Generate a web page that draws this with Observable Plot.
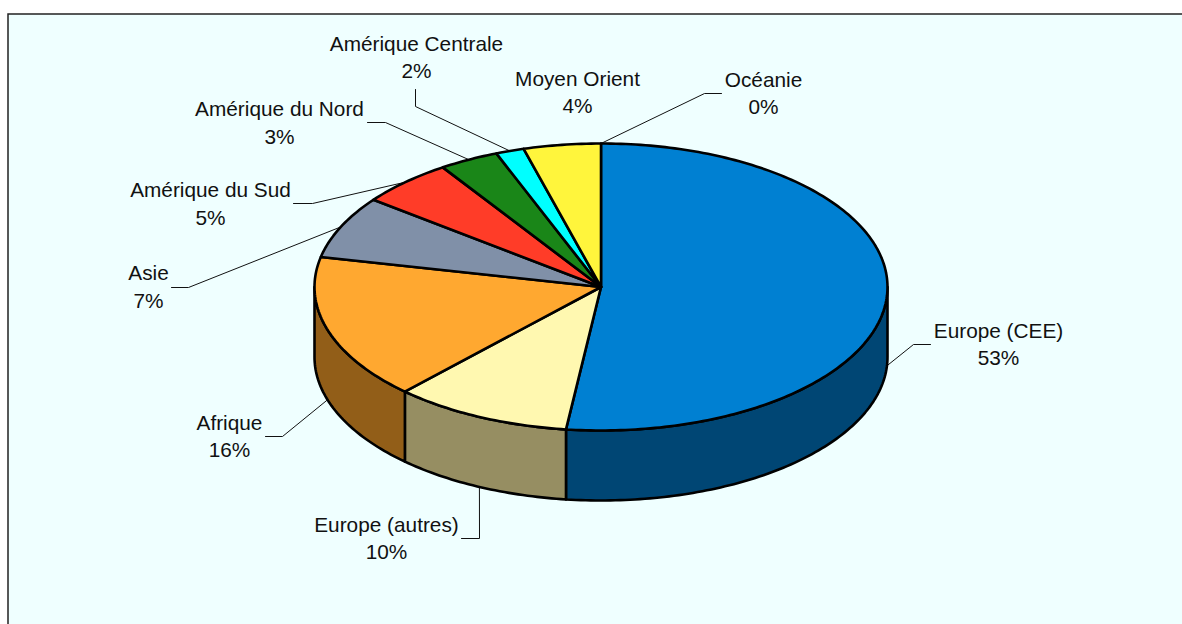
<!DOCTYPE html>
<html><head><meta charset="utf-8">
<style>html,body{margin:0;padding:0;background:#fff;overflow:hidden}svg{display:block}</style>
<script src="https://cdn.jsdelivr.net/npm/d3@7"></script>
<script src="https://cdn.jsdelivr.net/npm/@observablehq/plot@0.6"></script>
</head><body><div id="chart"></div>
<script>
// Data
const names = ["Europe (CEE)","Europe (autres)","Afrique","Asie","Amérique du Sud","Amérique du Nord","Amérique Centrale","Moyen Orient","Océanie"];
const labelled = [53,10,16,7,5,3,2,4,0];               // printed percentages
const drawnShare = [51.95,10.05,16.36,7.03,5.3,3.36,1.6,4.35,0]; // slice share as it appears in the tilted pie
const topColors = ["#0080D2","#FFF8B0","#FFA830","#8090A8","#FF3C28","#1A8618","#00FFFF","#FFF53C","#000000"];
const sideColors = ["#004674","#968E62","#925E18","#8090A8","#FF3C28","#1A8618","#00FFFF","#FFF53C","#000000"];

// Layout (page pixels)
const pie = {cx:600.5, cy:286.5, rx:286.5, ry:143.5, depth:70};
const labelX = [998,386,229,148,210,279,416,577,763];
const labelY = [344.5,538.5,436.5,287,204,123,57.5,92.5,93.5];
const elbowX = [913,479,282,188,312,385,415,null,704];
const elbowY = [344,538,436,287,203,122,106,null,93];
const stubX  = [930,461,265,171,293,367,415,null,721];
const stubY  = [344,538,436,287,203,122,89,null,93];

const pt = (deg, drop=0) => {
  const a = deg*Math.PI/180;
  return [pie.cx+pie.rx*Math.sin(a), pie.cy-pie.ry*Math.cos(a)+drop];
};
let run = 0;
const slices = names.map((name,i)=>{
  const start = run*3.6; run += drawnShare[i]; const end = run*3.6;
  return {name, i, start, end, mid:(start+end)/2};
});
const arc = (s,e,drop=0)=>{
  const n = Math.max(1,Math.ceil((e-s)/1)), out=[];
  for(let k=0;k<=n;k++) out.push(pt(s+(e-s)*k/n,drop));
  return out;
};
const topRows = [], sideRows = [];
slices.filter(s=>s.end>s.start).forEach(s=>{
  [[pie.cx,pie.cy],...arc(s.start,s.end)].forEach(([x,y])=>topRows.push({x,y,name:s.name,color:topColors[s.i]}));
  const a=Math.max(s.start,90), b=Math.min(s.end,270);
  if(b>a){
    [...arc(a,b),...arc(a,b,pie.depth).reverse()].forEach(([x,y])=>sideRows.push({x,y,name:s.name,color:sideColors[s.i]}));
  }
});
const leaderRows=[];
slices.forEach(s=>{
  if(elbowX[s.i]==null) return;
  const [ax,ay]=pt(s.mid,(s.mid>90&&s.mid<270)?pie.depth:0);
  [[stubX[s.i],stubY[s.i]],[elbowX[s.i],elbowY[s.i]],[ax,ay]].forEach(([x,y])=>leaderRows.push({x,y,name:s.name}));
});
const labelRows = names.map((n,i)=>({x:labelX[i],y:labelY[i]-2.5,text:`${n}\n${labelled[i]}%`}));

const chart = Plot.plot({
  width:1182,height:624,margin:0,
  x:{domain:[0,1182],range:[0,1182],axis:null},
  y:{domain:[0,624],range:[0,624],axis:null},
  style:{background:"#fff",overflow:"hidden"},
  marks:[
    Plot.rect([{a:8,b:1195,c:14,d:640}],{x1:"a",x2:"b",y1:"c",y2:"d",fill:"#EFFFFF",stroke:"#222",strokeWidth:1.5}),
    Plot.line(leaderRows,{x:"x",y:"y",z:"name",stroke:"#111",strokeWidth:1,curve:"linear"}),
    Plot.line(sideRows,{x:"x",y:"y",z:"name",fill:"color",stroke:"#000",strokeWidth:2.6,curve:"linear-closed",strokeLinejoin:"round"}),
    Plot.line(topRows,{x:"x",y:"y",z:"name",fill:"color",stroke:"#000",strokeWidth:2.6,curve:"linear-closed",strokeLinejoin:"round"}),
    Plot.text(labelRows,{x:"x",y:"y",text:"text",fontFamily:"Liberation Sans",fontSize:20.8,lineHeight:1.32,fill:"#111",textAnchor:"middle"})
  ]
});
document.getElementById("chart").append(chart);
</script></body></html>
